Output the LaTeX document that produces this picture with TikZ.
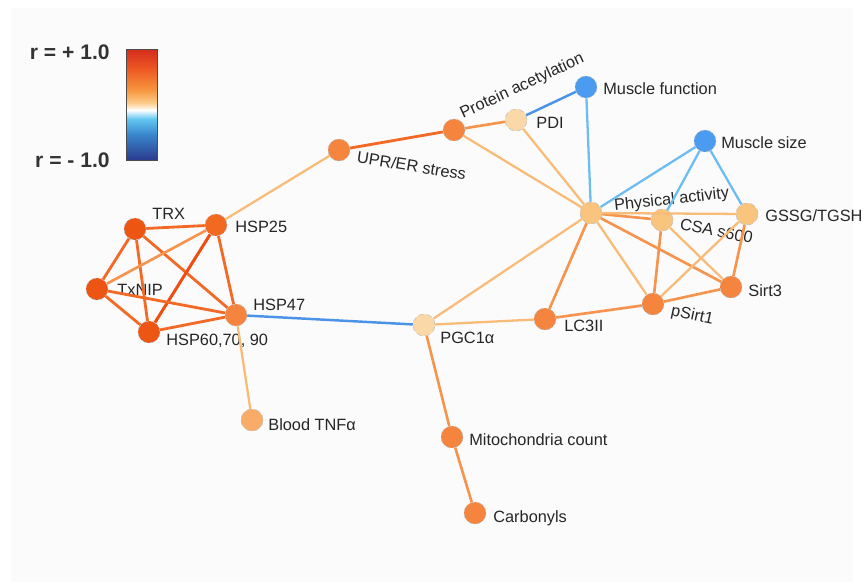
\documentclass[tikz,border=0pt]{standalone}
\usepackage{fontspec}
\setmainfont{Liberation Sans}
\usetikzlibrary{positioning,calc}

% node fills
\definecolor{cRed}{HTML}{EC5512}
\definecolor{cDeep}{HTML}{F26A22}
\definecolor{cOrange}{HTML}{F5843F}
\definecolor{cLight}{HTML}{F8AC68}
\definecolor{cPale}{HTML}{F9C47E}
\definecolor{cCream}{HTML}{FAD8A8}
\definecolor{cBlue}{HTML}{4B9CF0}
% edge colours
\definecolor{eRed}{HTML}{EE4E12}
\definecolor{eHi}{HTML}{F26A26}
\definecolor{eMd}{HTML}{F6944E}
\definecolor{eLo}{HTML}{F9BC78}
\definecolor{eNeg}{HTML}{4A93E6}
\definecolor{eNegLo}{HTML}{6EBDF2}
% colour bar
\definecolor{bar1}{HTML}{D42B1E}
\definecolor{bar2}{HTML}{EE5C24}
\definecolor{bar3}{HTML}{F7963F}
\definecolor{bar4}{HTML}{FCCD8C}
\definecolor{bar5}{HTML}{FFFFFF}
\definecolor{bar6}{HTML}{62C6F0}
\definecolor{bar7}{HTML}{3A88CE}
\definecolor{bar8}{HTML}{2A3A8C}

\begin{document}
\begin{tikzpicture}[x=0.02cm, y=-0.02cm,
    vertex/.style={circle, minimum size=0.44cm, inner sep=0pt, draw=black!25, densely dashed, line width=0.3pt},
    lbl/.style={anchor=west, inner sep=0pt, font=\fontsize{9.3}{11}\selectfont, text=black!85},
    barlbl/.style={anchor=east, inner sep=0pt, font=\fontsize{12}{14}\selectfont\bfseries, text=black!80},
    edgeHi/.style={line width=1.6pt, draw=eHi},
    edgeRed/.style={line width=1.7pt, draw=eRed},
    edgeMd/.style={line width=1.5pt, draw=eMd},
    edgeLo/.style={line width=1.3pt, draw=eLo},
    edgeNeg/.style={line width=1.4pt, draw=eNeg},
    edgeNegLo/.style={line width=1.3pt, draw=eNegLo}]
    \useasboundingbox (0,0) rectangle (864,583);
    \fill[gray!3] (11,8) rectangle (853,582);

    % colour bar
    \foreach \ya/\yb/\ca/\cb in {49/70/bar1/bar2, 70/90/bar2/bar3, 90/103/bar3/bar4, 103/110/bar4/bar5,
                                 110/119/bar5/bar6, 119/134/bar6/bar7, 134/160/bar7/bar8}
        \shade[top color=\ca, bottom color=\cb] (126,\ya) rectangle (157,\yb);
    \draw[black!70, line width=0.5pt] (126,49) rectangle (157,160);
    \node[barlbl] (rtop) at (110,52) {r = + 1.0};
    \node[barlbl] (rbot) at (110,160) {r = - 1.0};

    % nodes
    \node[vertex, fill=cRed]    (trx)   at (135,229) {};
    \node[vertex, fill=cDeep]   (hsp25) at (216,225) {};
    \node[vertex, fill=cRed]    (txnip) at (97,289)  {};
    \node[vertex, fill=cRed]    (hsp60) at (149,332) {};
    \node[vertex, fill=cOrange] (hsp47) at (236,315) {};
    \node[vertex, fill=cLight]  (tnf)   at (252,420) {};
    \node[vertex, fill=cOrange] (upr)   at (339,150) {};
    \node[vertex, fill=cOrange] (acet)  at (454,130) {};
    \node[vertex, fill=cCream]  (pdi)   at (516,120) {};
    \node[vertex, fill=cBlue]   (mfun)  at (586,87)  {};
    \node[vertex, fill=cBlue]   (msize) at (705,141) {};
    \node[vertex, fill=cPale]   (phys)  at (591,213) {};
    \node[vertex, fill=cPale]   (csa)   at (662,220) {};
    \node[vertex, fill=cPale]   (gssg)  at (747,214) {};
    \node[vertex, fill=cOrange] (sirt3) at (731,287) {};
    \node[vertex, fill=cOrange] (psirt) at (653,304) {};
    \node[vertex, fill=cOrange] (lc3)   at (545,319) {};
    \node[vertex, fill=cCream]  (pgc)   at (424,325) {};
    \node[vertex, fill=cOrange] (mito)  at (452,437) {};
    \node[vertex, fill=cOrange] (carb)  at (475,513) {};

    % labels
    \node[lbl] (trxl)   at (152,214) {TRX};
    \node[lbl] (hsp25l) at (235,227) {HSP25};
    \node[lbl] (txnipl) at (117,290) {TxNIP};
    \node[lbl] (hsp60l) at (166,341) {HSP60,70, 90};
    \node[lbl] (hsp47l) at (253,305) {HSP47};
    \node[lbl] (tnfl)   at (268,425) {Blood TNFα};
    \node[lbl, rotate=-9] (uprl) at (357,157) {UPR/ER stress};
    \node[lbl, rotate=25] (acetl) at (461,115) {Protein acetylation};
    \node[lbl] (pdil)   at (536,123) {PDI};
    \node[lbl] (mfunl)  at (603,89)  {Muscle function};
    \node[lbl] (msizel) at (721,143) {Muscle size};
    \node[lbl, rotate=6] (physl) at (614,206) {Physical activity};
    \node[lbl, rotate=-11] (csal) at (680,224) {CSA s600};
    \node[lbl] (gssgl)  at (765,216) {GSSG/TGSH};
    \node[lbl] (sirt3l) at (748,291) {Sirt3};
    \node[lbl, rotate=-12] (psirtl) at (671,311) {pSirt1};
    \node[lbl] (lc3l)   at (564,326) {LC3II};
    \node[lbl] (pgcl)   at (440,338) {PGC1α};
    \node[lbl] (mitol)  at (469,440) {Mitochondria count};
    \node[lbl] (carbl)  at (493,518) {Carbonyls};

    % correlations
    \foreach \a/\b/\s in {trx/hsp25/edgeHi, trx/txnip/edgeHi, trx/hsp60/edgeHi, trx/hsp47/edgeHi,
                          hsp25/txnip/edgeMd, hsp25/hsp60/edgeRed, hsp25/hsp47/edgeHi,
                          txnip/hsp60/edgeHi, txnip/hsp47/edgeHi, hsp60/hsp47/edgeHi,
                          hsp25/upr/edgeLo, hsp47/pgc/edgeNeg, hsp47/tnf/edgeLo,
                          upr/acet/edgeHi, acet/pdi/edgeMd, acet/phys/edgeLo,
                          pdi/mfun/edgeNeg, pdi/phys/edgeLo, mfun/phys/edgeNegLo,
                          msize/phys/edgeNegLo, msize/csa/edgeNegLo, msize/gssg/edgeNegLo,
                          phys/csa/edgeMd, phys/gssg/edgeLo, phys/sirt3/edgeMd, phys/psirt/edgeLo,
                          phys/lc3/edgeMd, phys/pgc/edgeLo, csa/psirt/edgeMd, csa/sirt3/edgeLo,
                          gssg/psirt/edgeLo, gssg/sirt3/edgeMd, psirt/sirt3/edgeMd, psirt/lc3/edgeMd,
                          lc3/pgc/edgeLo, pgc/mito/edgeMd, mito/carb/edgeMd}
        \draw[\s] (\a) -- (\b);
\end{tikzpicture}
\end{document}
